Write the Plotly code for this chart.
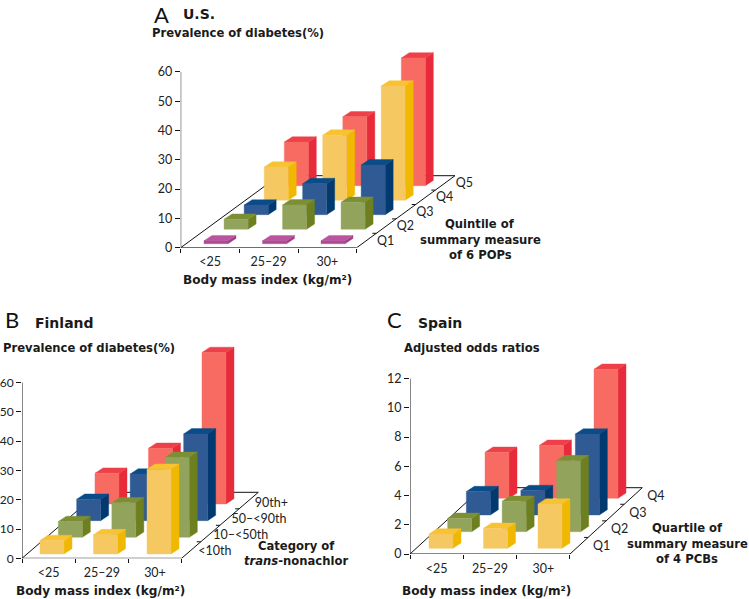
import plotly.graph_objects as go

W, H = 749, 599

bmi_labels = ["<25", "25–29", "30+"]

us_levels = ["Q1", "Q2", "Q3", "Q4", "Q5"]
us_q1 = [1.0, 1.0, 1.0]
us_q2 = [3.4, 8.3, 9.2]
us_q3 = [3.3, 10.6, 17.0]
us_q4 = [11.3, 22.2, 39.0]
us_q5 = [14.9, 23.5, 43.6]

fin_levels = ["<10th", "10–<50th", "50–<90th", "90th+"]
fin_c1 = [4.6, 6.6, 28.9]
fin_c2 = [5.4, 11.8, 27.3]
fin_c3 = [7.3, 15.9, 29.6]
fin_c4 = [10.5, 19.0, 51.7]

spa_levels = ["Q1", "Q2", "Q3", "Q4"]
spa_q1 = [0.98, 1.37, 3.03]
spa_q2 = [0.91, 2.08, 4.86]
spa_q3 = [1.60, 1.67, 5.54]
spa_q4 = [3.15, 3.63, 8.83]

us_ticks = [0, 10, 20, 30, 40, 50, 60]
fin_ticks = [0, 10, 20, 30, 40, 50, 60]
spa_ticks = [0, 2, 4, 6, 8, 10, 12]

RED = ("#F76B62", "#E82B3A", "#EE4049")
YEL = ("#F5C862", "#F0B800", "#F8C233")
BLU = ("#305A94", "#003A70", "#0A4C88")
GRN = ("#92A35C", "#6D7F1E", "#7D8F35")
MAG = ("#B04A92", "#A23D86", "#B9559F")

TICK_FONT = dict(family="Lato", size=12.5, color="#222")
NARROW_FONT = dict(family="Lato", size=12, color="#222")

panels = [
    dict(series=[us_q1, us_q2, us_q3, us_q4, us_q5], levels=us_levels, yticks=us_ticks,
         colors=[MAG, GRN, BLU, YEL, RED], yfont=TICK_FONT,
         ox=180.7, oy=247.7, cat=58.67, unit=2.93, right=490, top=40,
         floor=(98.3, 72.0), row=(20.08, 14.5), start=(23.3, 4.0), pitch=58.5,
         label_off=[(10.5, -1)] * 5),
    dict(series=[fin_c1, fin_c2, fin_c3, fin_c4], levels=fin_levels, yticks=fin_ticks,
         colors=[YEL, GRN, BLU, RED], yfont=NARROW_FONT,
         ox=22.0, oy=558.3, cat=53.2, unit=2.93, right=310, top=340,
         floor=(76.7, 66.0), row=(18.33, 16.67), start=(18.0, 4.33), pitch=53.5,
         label_off=[(7, -2), (3, -2), (2, -3), (6, -3)]),
    dict(series=[spa_q1, spa_q2, spa_q3, spa_q4], levels=spa_levels, yticks=spa_ticks,
         colors=[YEL, GRN, BLU, RED], yfont=TICK_FONT,
         ox=410.0, oy=554.0, cat=53.33, unit=14.61, right=700, top=340,
         floor=(72.3, 66.3), row=(18.67, 16.67), start=(19.0, 5.67), pitch=54.5,
         label_off=[(14, -1)] * 4),
]

BW, BDX, BDY = 24.0, 8.0, 5.3

fig = go.Figure()
layout = dict(
    width=W, height=H, margin=dict(l=0, r=0, t=0, b=0, autoexpand=False),
    paper_bgcolor="white", plot_bgcolor="rgba(0,0,0,0)", showlegend=False,
    hovermode=False,
)


def poly(xa, ya, xs, ys, color):
    fig.add_trace(go.Scatter(x=xs, y=ys, mode="lines", fill="toself", fillcolor=color,
                             line=dict(width=0.4, color=color), xaxis=xa, yaxis=ya,
                             hoverinfo="skip"))


def segment(xa, ya, xs, ys, width=1.0):
    fig.add_trace(go.Scatter(x=xs, y=ys, mode="lines", line=dict(width=width, color="#111"),
                             xaxis=xa, yaxis=ya, hoverinfo="skip"))


for i, p in enumerate(panels):
    n = "" if i == 0 else str(i + 1)
    xa, ya = "x" + n, "y" + n
    cat, unit = p["cat"], p["unit"]
    layout["xaxis" + n] = dict(
        domain=[p["ox"] / W, p["right"] / W], range=[0, (p["right"] - p["ox"]) / cat],
        anchor=ya, showgrid=False, zeroline=False, showline=False,
        tickmode="array", tickvals=[0.5, 1.5, 2.5], ticktext=bmi_labels, ticks="",
        ticklabelstandoff=5, tickfont=TICK_FONT,
        minor=dict(ticks="outside", tickmode="array", tickvals=[0, 1, 2, 3], ticklen=4,
                   tickwidth=1, tickcolor="#111", showgrid=False),
    )
    layout["yaxis" + n] = dict(
        domain=[1 - p["oy"] / H, 1 - p["top"] / H],
        range=[0, (p["oy"] - p["top"]) / unit],
        anchor=xa, showgrid=False, zeroline=False, showline=False,
        tickmode="array", tickvals=p["yticks"], ticks="outside", ticklen=5, tickwidth=1,
        tickcolor="#111", tickfont=p["yfont"],
    )

    # floor and axes
    fx, fy = p["floor"][0] / cat, p["floor"][1] / unit
    segment(xa, ya, [0, 0], [0, p["yticks"][-1]])
    segment(xa, ya, [0, 3, 3 + fx, fx, 0], [0, 0, fy, fy, 0])
    nrows = len(p["levels"])
    for r in range(1, nrows):
        f = r / nrows
        segment(xa, ya, [3 + fx * f, 3 + fx * f - 4 / cat], [fy * f, fy * f])
    lx, ly, lt = [], [], []
    for r, lab in enumerate(p["levels"]):
        f = (r + 0.5) / nrows
        ox_, oy_ = p["label_off"][r]
        lx.append(3 + fx * f + ox_ / cat)
        ly.append(fy * f + oy_ / unit)
        lt.append(lab)
    fig.add_trace(go.Scatter(x=lx, y=ly, text=lt, mode="text", textposition="middle right",
                             textfont=TICK_FONT, xaxis=xa, yaxis=ya, hoverinfo="skip",
                             cliponaxis=False))

    # bars, back to front, left to right
    for r in reversed(range(nrows)):
        front, side, topc = p["colors"][r]
        for c, v in enumerate(p["series"][r]):
            x0 = (p["start"][0] + c * p["pitch"] + r * p["row"][0]) / cat
            y0 = (p["start"][1] + r * p["row"][1]) / unit
            w, dx, dy = BW / cat, BDX / cat, BDY / unit
            y1 = y0 + v
            poly(xa, ya, [x0 + w, x0 + w + dx, x0 + w + dx, x0 + w, x0 + w],
                 [y0, y0 + dy, y1 + dy, y1, y0], side)
            poly(xa, ya, [x0, x0 + w, x0 + w + dx, x0 + dx, x0],
                 [y1, y1, y1 + dy, y1 + dy, y1], topc)
            poly(xa, ya, [x0, x0 + w, x0 + w, x0, x0], [y0, y0, y1, y1, y0], front)

BOLD = dict(family="DejaVu Sans", size=11.6, color="#1a1a1a")
XBOLD = dict(family="DejaVu Sans", size=12.1, color="#1a1a1a")
BIG = dict(family="Lato", size=22, color="#111")
HEAD = dict(family="DejaVu Sans", size=14, color="#1a1a1a")
texts = [
    ("A", 153, 14, "left", BIG),
    ("<b>U.S.</b>", 182, 14, "left", HEAD),
    ("<b>Prevalence of diabetes(%)</b>", 151, 33, "left", BOLD),
    ("<b>Body mass index (kg/m²)</b>", 182, 280, "left", XBOLD),
    ("<b>Quintile of</b>", 480, 224, "center", BOLD),
    ("<b>summary measure</b>", 480, 240, "center", BOLD),
    ("<b>of 6 POPs</b>", 480, 255, "center", BOLD),
    ("B", 4, 319, "left", BIG),
    ("<b>Finland</b>", 34, 323, "left", HEAD),
    ("<b>Prevalence of diabetes(%)</b>", 2, 348, "left", BOLD),
    ("<b>Body mass index (kg/m²)</b>", 15, 591, "left", XBOLD),
    ("<b>Category of</b>", 296, 546, "center", BOLD),
    ("<b><i>trans</i>-nonachlor</b>", 296, 561, "center", BOLD),
    ("C", 386, 319, "left", BIG),
    ("<b>Spain</b>", 417, 323, "left", HEAD),
    ("<b>Adjusted odds ratios</b>", 403, 348, "left", BOLD),
    ("<b>Body mass index (kg/m²)</b>", 401, 591, "left", XBOLD),
    ("<b>Quartile of</b>", 687, 528, "center", BOLD),
    ("<b>summary measure</b>", 687, 544, "center", BOLD),
    ("<b>of 4 PCBs</b>", 687, 559, "center", BOLD),
]
layout["annotations"] = [
    dict(text=t, x=px / W, y=1 - py / H, xref="paper", yref="paper", xanchor=a, yanchor="middle",
         showarrow=False, font=f, borderpad=0)
    for t, px, py, a, f in texts
]
fig.update_layout(**layout)
fig.write_html("out.html", config=dict(displayModeBar=False),
               post_script="document.body.style.margin='0';")
